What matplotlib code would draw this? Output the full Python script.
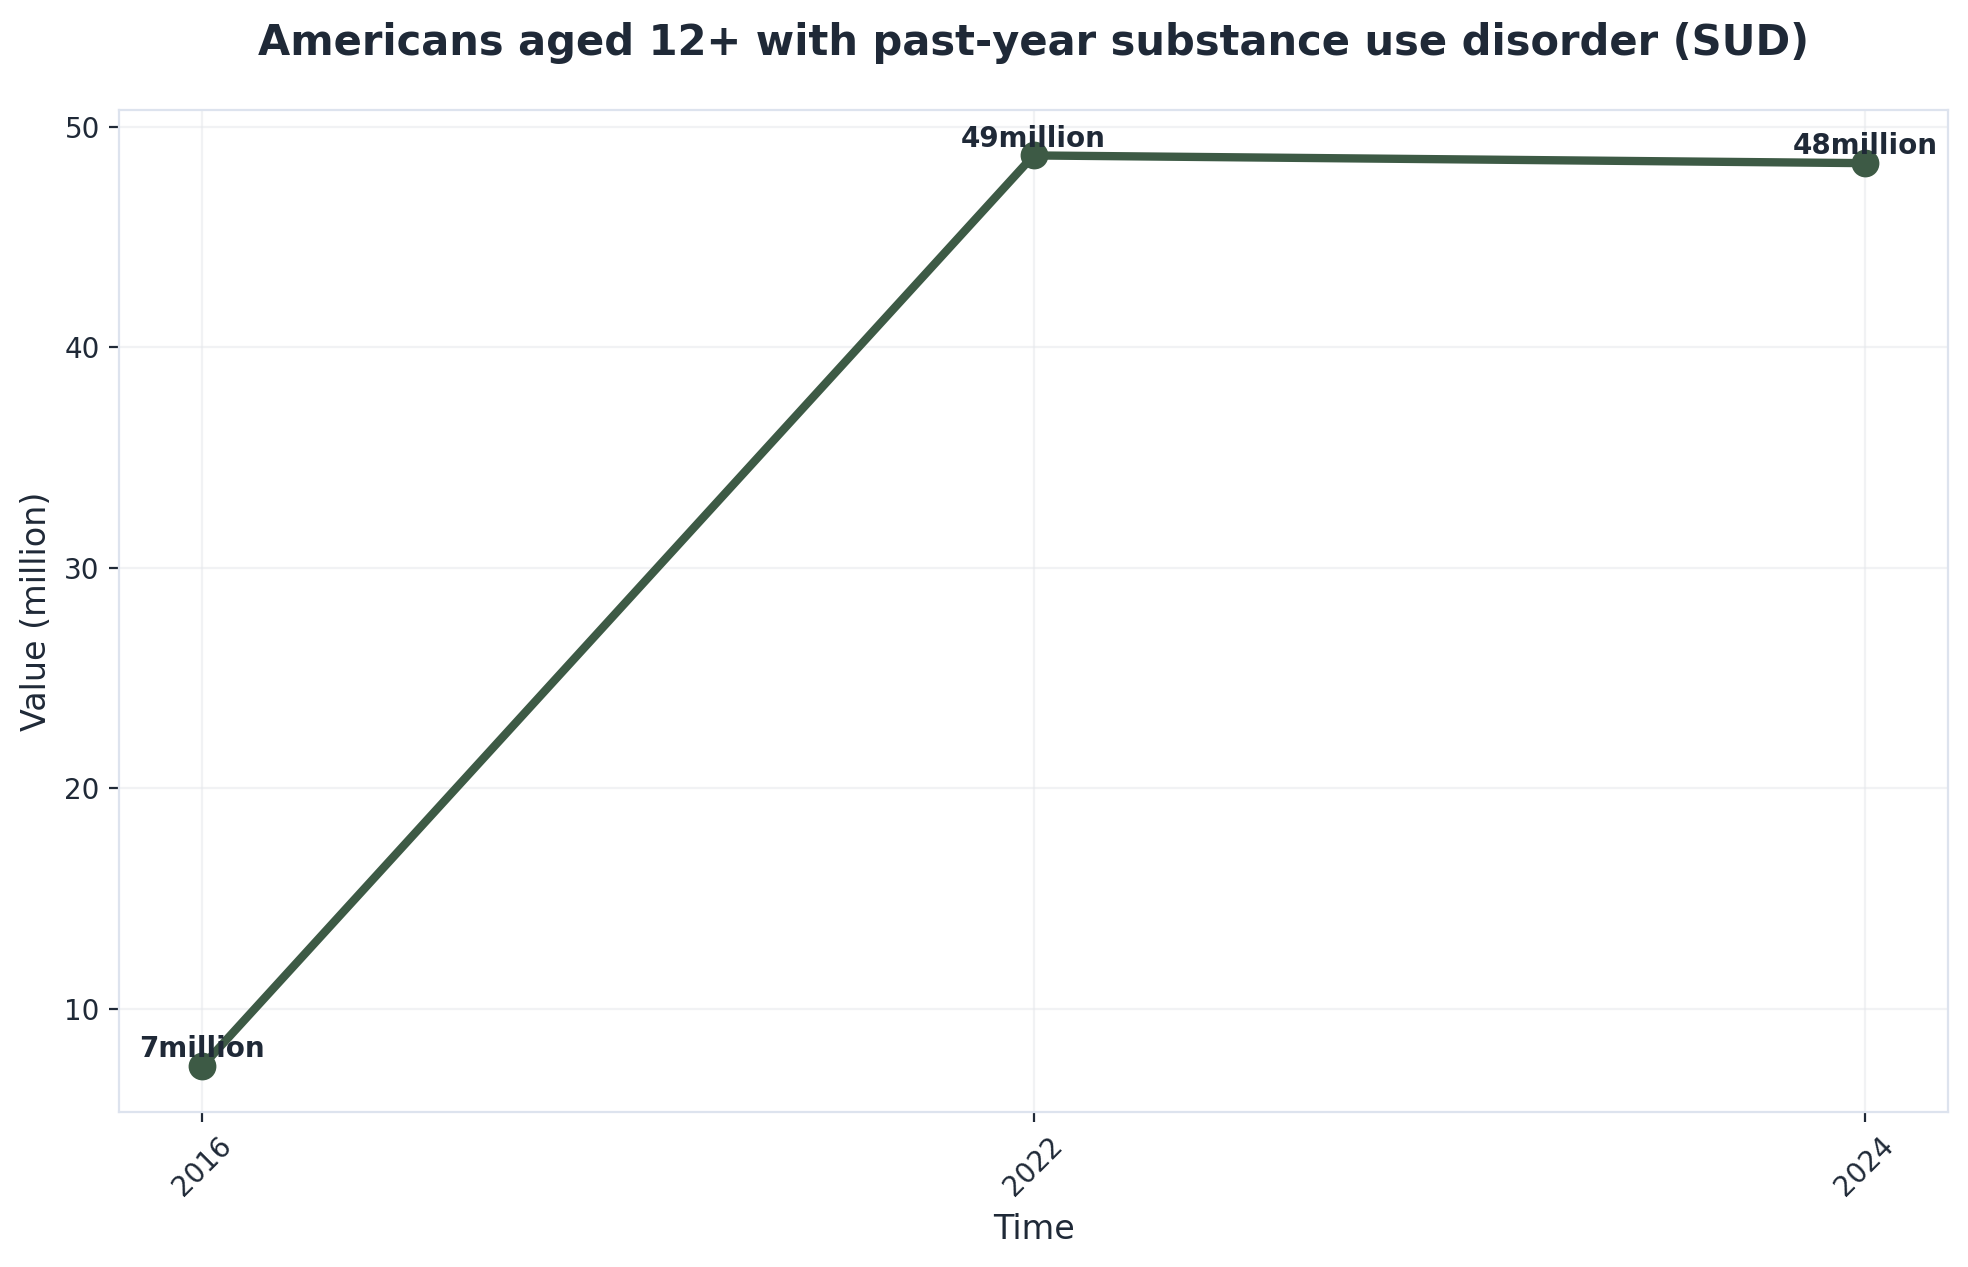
import matplotlib
matplotlib.use("Agg")
import matplotlib.pyplot as plt

years = ["2016", "2022", "2024"]
values = [7.4, 48.7, 48.35]
labels = ["7million", "49million", "48million"]

txt = "#1f2937"
fig, ax = plt.subplots(figsize=(9.84, 6.335), dpi=200)
x = list(range(len(years)))
ax.plot(x, values, color="#3d5a45", linewidth=3, marker="o", markersize=9, zorder=3)
for xi, v, l in zip(x, values, labels):
    ax.annotate(l, (xi, v), xytext=(0, 1), textcoords="offset points", ha="center", va="bottom",
                fontsize=10, fontweight="bold", color=txt)
ax.set_xticks(x)
ax.set_xticklabels(years, rotation=45, color=txt)
ax.set_xlim(-0.1, 2.1)
ax.set_ylim(5.3, 50.75)
ax.tick_params(colors=txt, labelsize=10)
ax.grid(True, color="#e5e7eb", alpha=0.5, linewidth=0.8)
for s in ax.spines.values():
    s.set_color("#dde3ee")
ax.set_xlabel("Time", fontsize=12, color=txt)
ax.set_ylabel("Value (million)", fontsize=12, color=txt)
ax.set_title("Americans aged 12+ with past-year substance use disorder (SUD)", fontsize=15,
             fontweight="bold", color=txt, pad=20)
fig.subplots_adjust(left=0.0606, right=0.9898, top=0.913, bottom=0.122)
fig.savefig("out.png", dpi=200)
